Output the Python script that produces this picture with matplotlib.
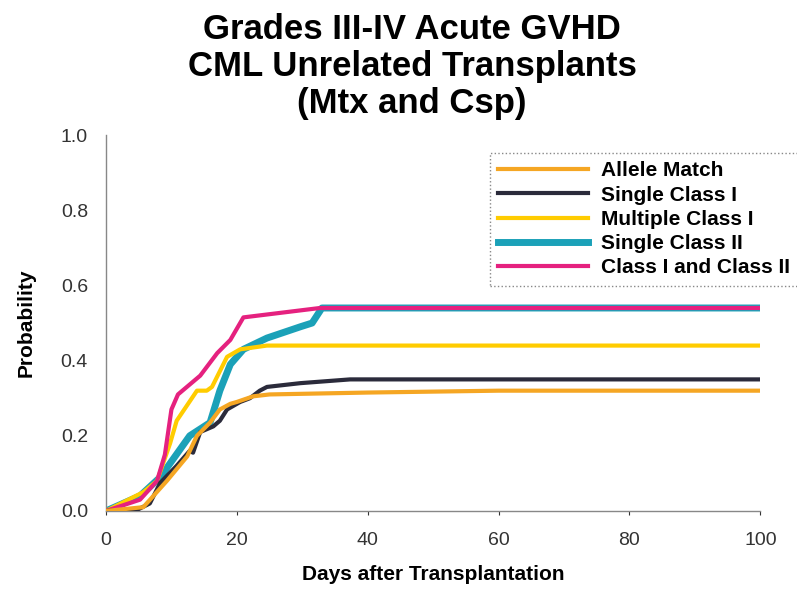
import matplotlib.pyplot as plt

plt.rcParams['font.family'] = ['Liberation Sans', 'DejaVu Sans']

# Allele Match
days_am = [0, 5.7, 9.3, 12.4, 13.9, 15.9, 17.4, 19, 20, 22.5, 25, 40, 60, 100]
prob_am = [0, 0.01, 0.08, 0.145, 0.20, 0.235, 0.27, 0.285, 0.29, 0.305, 0.31, 0.315, 0.32, 0.32]

# Single Class I
days_s1 = [0, 5, 6.7, 8.3, 10.8, 12.8, 13.3, 14.4, 16.4, 17.4, 18.5, 20.5, 22, 23.5, 24.6, 29.7, 37.3, 100]
prob_s1 = [0, 0.005, 0.02, 0.075, 0.12, 0.16, 0.155, 0.21, 0.225, 0.24, 0.27, 0.29, 0.30, 0.32, 0.33, 0.34, 0.35, 0.35]

# Multiple Class I
days_m1 = [0, 5.7, 7.8, 9.8, 10.8, 13.9, 15.4, 16.2, 18.5, 20.5, 24.6, 100]
prob_m1 = [0, 0.05, 0.08, 0.18, 0.24, 0.32, 0.32, 0.33, 0.41, 0.43, 0.44, 0.44]

# Single Class II
days_s2 = [0, 5.2, 8.3, 12.8, 15.9, 17.4, 19, 21, 24.6, 29.7, 31.5, 33, 100]
prob_s2 = [0, 0.04, 0.09, 0.20, 0.235, 0.32, 0.39, 0.43, 0.46, 0.49, 0.50, 0.54, 0.54]

# Class I and Class II
days_c12 = [0, 5.2, 7.8, 9, 10, 11, 14.4, 17, 19, 21, 32.7, 100]
prob_c12 = [0, 0.03, 0.08, 0.15, 0.27, 0.31, 0.36, 0.42, 0.455, 0.515, 0.54, 0.54]

xticks = [0, 20, 40, 60, 80, 100]
yticks = [0.0, 0.2, 0.4, 0.6, 0.8, 1.0]

fig = plt.figure(figsize=(7.97, 5.9), dpi=100)
ax = fig.add_axes([0.133, 0.134, 0.821, 0.637])

ax.plot(days_am, prob_am, color='#F5A623', lw=3, label='Allele Match', zorder=5)
ax.plot(days_s1, prob_s1, color='#2B2B3B', lw=3, label='Single Class I', zorder=4)
ax.plot(days_m1, prob_m1, color='#FFCC00', lw=3, label='Multiple Class I', zorder=3)
ax.plot(days_s2, prob_s2, color='#1BA1B8', lw=5, label='Single Class II', zorder=2)
ax.plot(days_c12, prob_c12, color='#E5217F', lw=3, label='Class I and Class II', zorder=3)

ax.set_xlim(0, 100)
ax.set_ylim(0, 1.0)
ax.set_xticks(xticks)
ax.set_yticks(yticks)
ax.set_yticklabels(['%.1f' % v for v in yticks])
ax.tick_params(axis='both', labelsize=14, colors='#333333', length=3, width=0.8)
ax.tick_params(axis='y', length=0, pad=13)
ax.tick_params(axis='x', pad=12)
for s in ['top', 'right']:
    ax.spines[s].set_visible(False)
for s in ['left', 'bottom']:
    ax.spines[s].set_color('#888888')
    ax.spines[s].set_linewidth(1)

ax.set_xlabel('Days after Transplantation', fontsize=15, fontweight='bold', labelpad=12)
ax.set_ylabel('Probability', fontsize=15, fontweight='bold', labelpad=18)

fig.text(0.517, 0.978, 'Grades III-IV Acute GVHD\nCML Unrelated Transplants\n(Mtx and Csp)',
         ha='center', va='top', fontsize=25, fontweight='bold', linespacing=1.15)

leg = ax.legend(loc='upper left', bbox_to_anchor=(0.587, 0.952), borderaxespad=0,
                fancybox=False, edgecolor='#888888', fontsize=15, handlelength=4.3,
                labelspacing=0.25, borderpad=0.4, handletextpad=0.6, framealpha=1)
for t in leg.get_texts():
    t.set_fontweight('bold')
leg.get_frame().set_linewidth(1)
leg.get_frame().set_linestyle(':')

fig.savefig('out.png', dpi=100)
